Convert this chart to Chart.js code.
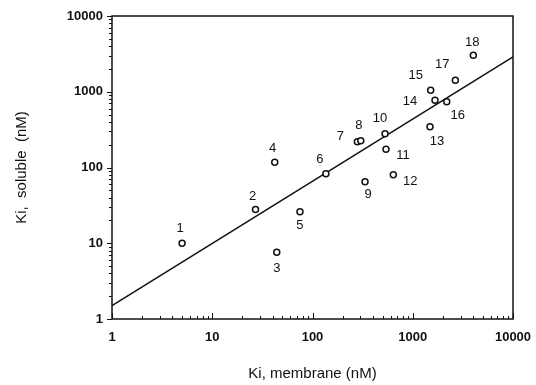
<!DOCTYPE html>
<html lang="en">
<head>
    <meta charset="UTF-8">
    <title>Ki, soluble vs Ki, membrane</title>
    <style>
        body { margin: 0; background: #fff; }
        #wrap { width: 536px; height: 385px; }
    </style>
    <script src="https://cdn.jsdelivr.net/npm/chart.js"></script>
</head>
<body>
    <div id="wrap"><canvas id="chart"></canvas></div>

    <script>
        // compound numbers and their Ki values (nM)
        const compounds = [1, 2, 3, 4, 5, 6, 7, 8, 9, 10, 11, 12, 13, 14, 15, 16, 17, 18];
        const kiMembrane = [5, 27, 44, 42, 75, 136, 280, 303, 334, 529, 541, 640, 1486, 1667, 1510, 2182, 2660, 4018];
        const kiSoluble = [10, 28, 7.6, 117, 26, 83, 219, 225, 65, 279, 174, 80, 345, 775, 1050, 736, 1422, 3034];

        // regression line end points
        const fitX = [1, 10000];
        const fitY = [1.5, 2880];

        const tickValues = [1, 10, 100, 1000, 10000];

        const FONT = "'Liberation Sans', Arial, Helvetica, sans-serif";

        // where each number sits relative to its circle (dx, dy in px)
        const labelOffsets = {
            1: [-2, -15], 2: [-3, -13], 3: [0, 16], 4: [-2, -14], 5: [0, 14],
            6: [-6, -14], 7: [-17, -5], 8: [-2, -15], 9: [3, 13], 10: [-5, -15],
            11: [17, 6], 12: [17, 7], 13: [7, 15], 14: [-25, 1], 15: [-15, -15],
            16: [11, 14], 17: [-13, -16], 18: [-1, -13]
        };

        // frame, minor ticks and point numbers
        const decorations = {
            id: 'decorations',
            afterDatasetsDraw(chart) {
                const ctx = chart.ctx;
                const area = chart.chartArea;
                const xs = chart.scales.x, ys = chart.scales.y;
                ctx.save();
                ctx.strokeStyle = '#111';
                ctx.lineWidth = 1.5;
                ctx.strokeRect(area.left, area.top, area.right - area.left, area.bottom - area.top);

                ctx.lineWidth = 1;
                ctx.beginPath();
                for (let d = 1; d <= 10000; d *= 10) {
                    for (let m = 1; m <= 9; m++) {
                        const v = d * m;
                        if (v > 10000) break;
                        const len = m === 1 ? 5 : 3;
                        const py = Math.round(ys.getPixelForValue(v)) + 0.5;
                        ctx.moveTo(area.left - len, py);
                        ctx.lineTo(area.left, py);
                        const px = Math.round(xs.getPixelForValue(v)) + 0.5;
                        ctx.moveTo(px, area.bottom);
                        ctx.lineTo(px, area.bottom - (m === 1 ? 6 : 3));
                    }
                }
                ctx.stroke();

                ctx.fillStyle = '#111';
                ctx.font = '13px ' + FONT;
                ctx.textAlign = 'center';
                ctx.textBaseline = 'middle';
                const meta = chart.getDatasetMeta(0);
                meta.data.forEach((pt, i) => {
                    const n = compounds[i];
                    const off = labelOffsets[n] || [0, -14];
                    ctx.fillText(String(n), pt.x + off[0], pt.y + off[1]);
                });
                ctx.restore();
            }
        };

        const ctx = document.getElementById('chart').getContext('2d');
        new Chart(ctx, {
            data: {
                datasets: [{
                    type: 'scatter',
                    label: 'compounds',
                    data: kiMembrane.map((x, i) => ({ x: x, y: kiSoluble[i] })),
                    pointRadius: 3,
                    pointBorderWidth: 1.5,
                    pointBorderColor: '#111',
                    pointBackgroundColor: '#fff',
                    order: 0
                }, {
                    type: 'line',
                    label: 'fit',
                    data: fitX.map((x, i) => ({ x: x, y: fitY[i] })),
                    borderColor: '#111',
                    borderWidth: 1.5,
                    pointRadius: 0,
                    fill: false,
                    order: 1
                }]
            },
            options: {
                responsive: true,
                maintainAspectRatio: false,
                animation: false,
                layout: { padding: { top: 16, right: 23, bottom: 0, left: 0 } },
                plugins: {
                    legend: { display: false },
                    tooltip: { enabled: false }
                },
                scales: {
                    x: {
                        type: 'logarithmic',
                        min: 1,
                        max: 10000,
                        afterBuildTicks: s => { s.ticks = tickValues.map(v => ({ value: v })); },
                        afterFit: s => {
                            s.height = 66;
                            s.paddingLeft = 0;
                            s.paddingRight = 0;
                        },
                        grid: { display: false, drawTicks: false },
                        border: { display: false },
                        ticks: {
                            autoSkip: false,
                            maxRotation: 0,
                            padding: 11,
                            color: '#111',
                            font: { family: FONT, size: 13, weight: 'bold' },
                            callback: v => String(v)
                        },
                        title: {
                            display: true,
                            text: 'Ki, membrane (nM)',
                            color: '#111',
                            font: { family: FONT, size: 15 },
                            padding: { top: 0, bottom: 2 }
                        }
                    },
                    y: {
                        type: 'logarithmic',
                        min: 1,
                        max: 10000,
                        afterBuildTicks: s => { s.ticks = tickValues.map(v => ({ value: v })); },
                        afterFit: s => {
                            s.width = 112;
                            s.paddingTop = 0;
                            s.paddingBottom = 0;
                        },
                        grid: { display: false, drawTicks: false },
                        border: { display: false },
                        ticks: {
                            autoSkip: false,
                            padding: 9,
                            color: '#111',
                            font: { family: FONT, size: 13, weight: 'bold' },
                            callback: v => String(v)
                        },
                        title: {
                            display: true,
                            text: 'Ki,  soluble  (nM)',
                            color: '#111',
                            font: { family: FONT, size: 15 },
                            padding: { top: 13, bottom: 0 }
                        }
                    }
                }
            },
            plugins: [decorations]
        });
    </script>
</body>
</html>
